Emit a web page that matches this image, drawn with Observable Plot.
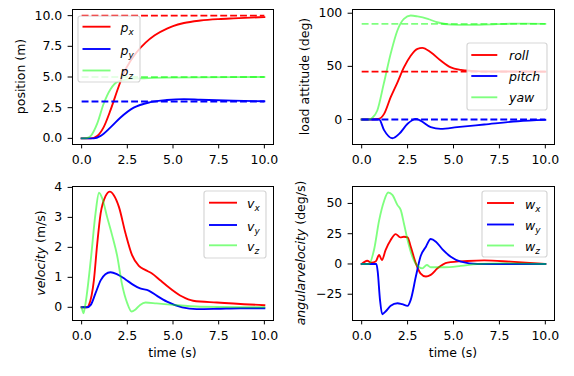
<!DOCTYPE html>
<html><head><meta charset="utf-8">
<script src="https://cdn.jsdelivr.net/npm/d3@7"></script>
<script src="https://cdn.jsdelivr.net/npm/@observablehq/plot@0.6"></script>
<style>
body{margin:0;background:#fff;}
#fig{position:relative;width:574px;height:376px;overflow:hidden;font-family:"DejaVu Sans";}
#fig svg{position:absolute;}
</style></head><body><div id="fig"></div>
<script>
// ---------- data ----------
const xTicks = [0, 2.5, 5, 7.5, 10];
const refT = [0, 10];

// position (m)
const pxT = [0, 0.5, 0.85, 1.2, 1.58, 1.95, 2.3, 2.67, 3.0, 3.5, 4.0, 4.67, 5.0, 5.6, 6.5, 7.5, 8.3, 10];
const pxV = [0, 0, 0.2, 0.9, 2.3, 3.9, 5.3, 6.3, 7.0, 7.8, 8.4, 8.95, 9.15, 9.4, 9.6, 9.72, 9.78, 9.88];
const pyT = [0, 0.67, 1.04, 1.58, 2.13, 2.85, 3.76, 4.67, 5.6, 6.5, 8.3, 10];
const pyV = [0, 0, 0.2, 0.9, 1.7, 2.5, 2.95, 3.13, 3.2, 3.15, 3.07, 3.02];
const pzT = [0, 0.3, 0.5, 0.85, 1.2, 1.58, 1.95, 2.5, 3.4, 4.67, 10];
const pzV = [0, 0.03, 0.2, 1.2, 2.8, 4.0, 4.6, 4.8, 4.9, 4.95, 5.0];
const posRefs = [10, 3, 5];
const posTicks = [0, 2.5, 5, 7.5, 10];
const posLabels = ["p_x", "p_y", "p_z"];

// load attitude (deg)
const rollT = [0, 0.9, 1.22, 1.58, 1.95, 2.3, 2.67, 3.04, 3.3, 3.76, 4.3, 4.85, 5.4, 5.95, 7, 10];
const rollV = [0, 0.5, 5.3, 21, 35, 49, 60, 66.5, 67.4, 63.3, 55.5, 49, 46.7, 45.8, 45.2, 45];
const pitchT = [0, 0.95, 1.22, 1.67, 2.04, 2.5, 2.95, 3.2, 3.76, 4.3, 5.2, 6.67, 8.5, 10];
const pitchV = [0, 0, -10, -17.6, -13.5, -4, 0.6, -1, -7.2, -8.8, -7.2, -4.7, -1.6, -0.3];
const yawT = [0, 0.4, 0.6, 0.85, 1.2, 1.58, 1.95, 2.3, 2.67, 3.04, 3.6, 4.1, 4.85, 5.76, 6.67, 8.5, 10];
const yawV = [0, 0, 2, 8.5, 33.5, 62, 84, 94.7, 97.8, 97, 94.7, 91.5, 89.3, 89, 89.3, 90.2, 90];
const attRefs = [45, 0, 90];
const attTicks = [0, 50, 100];
const attLabels = ["roll", "pitch", "yaw"];

// velocity (m/s)
const vxT = [0, 0.3, 0.4, 0.67, 0.85, 1.04, 1.3, 1.55, 1.76, 2.04, 2.4, 2.76, 3.13, 3.5, 3.85, 4.3, 4.85, 5.5, 6.1, 7.4, 10];
const vxV = [0, 0, 0.08, 0.9, 2.1, 3.13, 3.7, 3.86, 3.74, 3.35, 2.47, 1.74, 1.38, 1.24, 1.13, 0.9, 0.63, 0.36, 0.22, 0.16, 0.07];
const vyT = [0, 0.3, 0.5, 0.76, 1.04, 1.3, 1.58, 1.95, 2.4, 2.85, 3.2, 3.67, 4.13, 4.67, 5.5, 6.3, 7.4, 8.67, 10];
const vyV = [0, 0, 0.08, 0.47, 0.9, 1.1, 1.17, 1.1, 0.93, 0.74, 0.63, 0.56, 0.38, 0.19, 0, -0.06, -0.05, -0.03, -0.03];
const vzT = [0, 0.1, 0.2, 0.5, 0.76, 0.95, 1.13, 1.4, 1.67, 1.95, 2.2, 2.5, 2.73, 2.95, 3.2, 3.5, 4.1, 5.0, 6.5, 10];
const vzV = [0, -0.2, 0.08, 1.58, 3.13, 3.82, 3.63, 3.0, 2.4, 1.7, 0.8, 0.13, -0.14, -0.07, 0.08, 0.16, 0.13, 0.08, 0.02, 0];
const velTicks = [0, 1, 2, 3, 4];
const velLabels = ["v_x", "v_y", "v_z"];

// angular velocity (deg/s)
const wxT = [0, 0.3, 0.53, 0.76, 0.95, 1.1, 1.3, 1.58, 1.85, 2.1, 2.3, 2.5, 2.67, 2.95, 3.2, 3.5, 3.76, 4.13, 4.67, 5.76, 6.67, 8.1, 10];
const wxV = [0, 2.7, 1, 2, 7.4, 3.3, 11.5, 19.8, 24.7, 22, 22.5, 22, 14.3, 0.5, -7.7, -10.4, -9, -3.6, 1.1, 2.5, 3, 1.9, 0];
const wyT = [0, 0.8, 0.87, 1.0, 1.12, 1.3, 1.58, 1.95, 2.2, 2.5, 2.67, 2.95, 3.2, 3.5, 3.76, 4.04, 4.4, 4.85, 5.4, 6.3, 10];
const wyV = [0, 0, -6, -30, -41.5, -39.3, -34.6, -32.4, -33.2, -34.6, -29.7, -10.4, 6, 14.3, 20.6, 18.4, 12.1, 6, 1.9, 0, 0];
const wzT = [0, 0.4, 0.67, 0.95, 1.22, 1.44, 1.67, 1.95, 2.13, 2.3, 2.5, 2.76, 3.04, 3.3, 3.55, 3.76, 4.5, 5.4, 6.3, 7.6, 10];
const wzV = [0, 0, 11.5, 36, 52, 59, 57, 48.6, 44.5, 33.5, 19.8, 6, -1.6, -3.6, -0.8, -2.7, -2.7, -1.6, 0, 0.5, 0];
const angTicks = [-25, 0, 25, 50];
const angLabels = ["w_x", "w_y", "w_z"];

// ---------- style ----------
const COLORS = ["#ff0000", "#0000ff", "#00ff00"];
const OPAC = [1, 1, 0.5];
const LW = 1.875;
const FONT = "DejaVu Sans";
const fig = document.getElementById("fig");

function solid(T, V, i) {
  return Plot.line(V, {x: T, y: V, stroke: COLORS[i], strokeOpacity: OPAC[i], strokeWidth: LW, curve: "monotone-x", strokeLinecap: "square"});
}
function dashed(refs, i) {
  return Plot.line(refT, {x: refT, y: refT.map(() => refs[i]), stroke: COLORS[i], strokeOpacity: OPAC[i], strokeWidth: LW, strokeDasharray: "6.9,3", strokeLinecap: "butt"});
}

function legendMark(L, labels) {
  return () => {
    const g = d3.create("svg:g");
    g.append("rect").attr("x", L.x).attr("y", L.y).attr("width", L.w).attr("height", L.h).attr("rx", 2.5)
      .attr("fill", "white").attr("fill-opacity", 0.8).attr("stroke", "#cccccc").attr("stroke-opacity", 0.8).attr("stroke-width", 1.2);
    labels.forEach((lab, i) => {
      const y = L.rows[i];
      g.append("line").attr("x1", L.lx1).attr("x2", L.lx2).attr("y1", y).attr("y2", y)
        .attr("stroke", COLORS[i]).attr("stroke-opacity", OPAC[i]).attr("stroke-width", LW);
      const [main, sub] = lab.split("_");
      const t = g.append("text").attr("x", L.tx).attr("y", y + (sub ? L.bdy + 1 : L.bdy))
        .attr("text-anchor", "start").attr("font-style", "italic").attr("font-size", 12.5).attr("fill", "black");
      t.append("tspan").text(main);
      if (sub) t.append("tspan").attr("font-size", 8.9).attr("dy", 3).text(sub);
    });
    return g.node();
  };
}

function labelMark(Y, X) {
  return () => {
    const g = d3.create("svg:g").attr("fill", "black").attr("font-size", 12.5);
    const t = g.append("text").attr("transform", `translate(${Y.x},${Y.y}) rotate(-90)`).attr("text-anchor", "middle");
    Y.parts.forEach(p => t.append("tspan").attr("font-style", p[1] ? "italic" : "normal").text(p[0]));
    if (X) g.append("text").attr("x", X.x).attr("y", X.y).attr("text-anchor", "middle").text(X.text);
    return g.node();
  };
}

function panel(o) {
  const svg = Plot.plot({
    width: o.w, height: o.h,
    marginLeft: o.m[3], marginRight: o.m[1], marginTop: o.m[0], marginBottom: o.m[2],
    x: {domain: [-0.5, 10.5]},
    y: {domain: o.yDomain},
    style: {fontFamily: FONT, fontSize: "12.5px", color: "black", background: "transparent", overflow: "visible"},
    marks: [
      ...o.series.map(([T, V], i) => solid(T, V, i)),
      ...(o.refs ? [0, 1, 2].map(i => dashed(o.refs, i)) : []),
      Plot.frame({stroke: "black", strokeWidth: 1}),
      Plot.axisX({ticks: xTicks, tickFormat: d3.format(".1f"), tickSize: 4.4, tickPadding: 6.4, label: null, fontVariant: "normal"}),
      Plot.axisY({ticks: o.yTicks, tickFormat: o.yFmt, tickSize: 4.4, tickPadding: 5.8, label: null, fontVariant: "normal"}),
      legendMark(o.legend, o.labels),
      labelMark(o.ylabel, o.xlabel)
    ]
  });
  svg.style.left = o.left + "px";
  svg.style.top = o.top + "px";
  fig.appendChild(svg);
}

// top-left: position
panel({
  left: 0, top: 0, w: 287, h: 180, m: [9, 14, 36, 72],
  yDomain: [-0.5, 10.5], yTicks: posTicks, yFmt: d3.format(".1f"),
  series: [[pxT, pxV], [pyT, pyV], [pzT, pzV]], refs: posRefs, labels: posLabels,
  legend: {x: 78, y: 16, w: 62, h: 66, rows: [26.7, 49, 70.5], lx1: 82.5, lx2: 110.5, tx: 120.5, bdy: 4.5},
  ylabel: {x: 24.5, y: 76.5, parts: [["position (m)", false]]}
});

// top-right: load attitude
panel({
  left: 287, top: 0, w: 287, h: 180, m: [9, 20, 36, 65],
  yDomain: [-23.5, 103.5], yTicks: attTicks, yFmt: d3.format("d"),
  series: [[rollT, rollV], [pitchT, pitchV], [yawT, yawV]], refs: attRefs, labels: attLabels,
  legend: {x: 180, y: 43, w: 80, h: 67, rows: [55, 76, 97.3], lx1: 184.3, lx2: 210.3, tx: 222, bdy: 4.5},
  ylabel: {x: 22, y: 76.5, parts: [["load attitude (deg)", false]]}
});

// bottom-left: velocity
panel({
  left: 0, top: 180, w: 287, h: 196, m: [6, 14, 56, 72],
  yDomain: [-0.44, 4.03], yTicks: velTicks, yFmt: d3.format("d"),
  series: [[vxT, vxV], [vyT, vyV], [vzT, vzV]], labels: velLabels,
  legend: {x: 204, y: 11, w: 62, h: 67, rows: [22.7, 45, 65.3], lx1: 209, lx2: 237, tx: 247, bdy: 4.5},
  ylabel: {x: 45.3, y: 73, parts: [["velocity", true], [" (m/s)", false]]},
  xlabel: {x: 172.5, y: 177, text: "time (s)"}
});

// bottom-right: angular velocity
panel({
  left: 287, top: 180, w: 287, h: 196, m: [6, 20, 56, 65],
  yDomain: [-46.7, 64], yTicks: angTicks, yFmt: d3.format("d"),
  series: [[wxT, wxV], [wyT, wyV], [wzT, wzV]], labels: angLabels,
  legend: {x: 195, y: 11, w: 65, h: 66, rows: [23, 44.5, 65.5], lx1: 200, lx2: 227, tx: 238, bdy: 4.5},
  ylabel: {x: 18, y: 73, parts: [["angularvelocity", true], [" (deg/s)", false]]},
  xlabel: {x: 166, y: 177, text: "time (s)"}
});
</script></body></html>
